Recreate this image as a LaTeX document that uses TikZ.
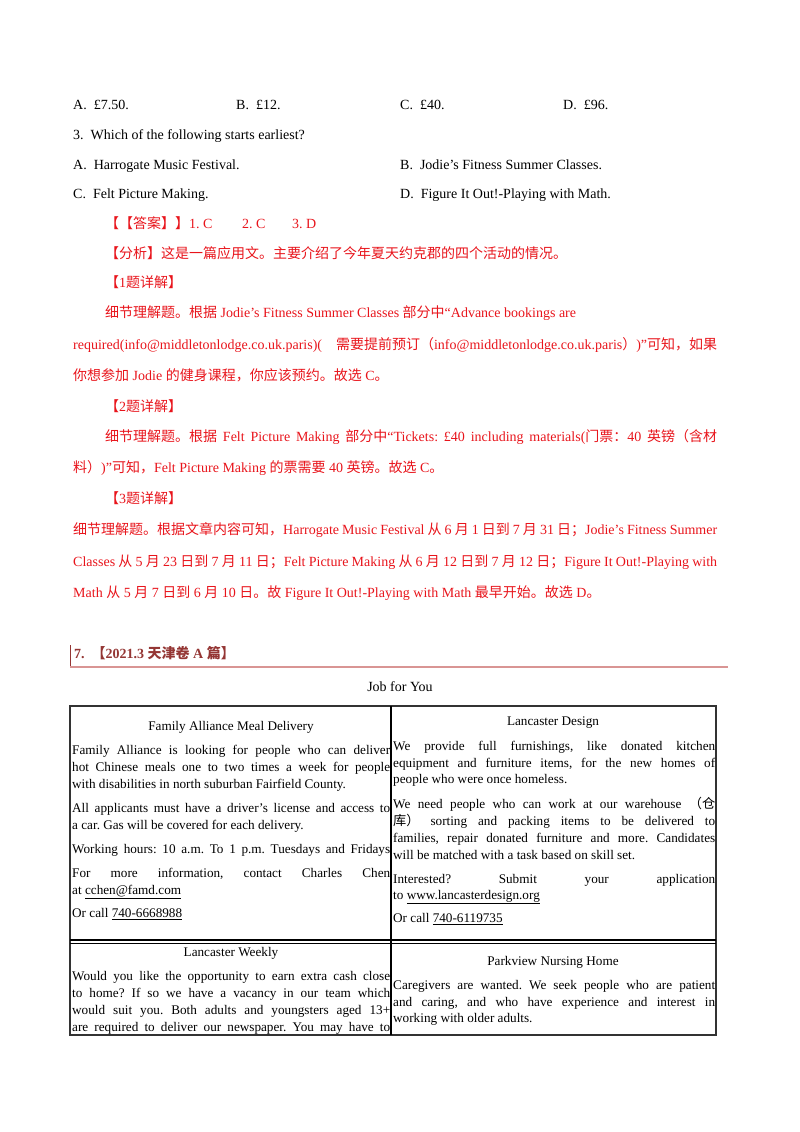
\documentclass[tikz,border=0pt]{standalone}
\usepackage{fontspec}
\setmainfont{Liberation Serif}
\newfontfamily\cjkf{Noto Sans CJK SC}
\newcommand\zh[1]{{\cjkf #1}}
\newcommand\jl[2]{\makebox[#1pt][s]{#2}}
\definecolor{ansred}{HTML}{E8141B}
\definecolor{hdred}{HTML}{943634}
\definecolor{hdline}{HTML}{D99594}
\frenchspacing
\begin{document}
\begin{tikzpicture}[x=1pt,y=-1pt,
  t/.style={inner sep=0,anchor=west,font=\fontsize{14}{15}\selectfont,text height=9.5pt,text depth=3pt},
  r/.style={t,text=ansred},
  c/.style={inner sep=0,anchor=west,font=\fontsize{13.2}{14}\selectfont,text height=9pt,text depth=2.5pt},
  cc/.style={c,anchor=center}]
\useasboundingbox (0,0) rectangle (800,1132);
% questions
\node[t] at (73,106) {A.\ \ £7.50.};
\node[t] at (236,106) {B.\ \ £12.};
\node[t] at (400,106) {C.\ \ £40.};
\node[t] at (563,106) {D.\ \ £96.};
\node[t] at (73,136) {3.\ \ Which of the following starts earliest?};
\node[t] at (73,166) {A.\ \ Harrogate Music Festival.};
\node[t] at (400,166) {B.\ \ Jodie's Fitness Summer Classes.};
\node[t] at (73,195) {C.\ \ Felt Picture Making.};
\node[t] at (400,195) {D.\ \ Figure It Out!-Playing with Math.};
% answer
\node[r] at (105,225) {\zh{【【答案】】}1. C};
\node[r] at (242,225) {2. C};
\node[r] at (292,225) {3. D};
\node[r] at (105,255) {\zh{【分析】这是一篇应用文。主要介绍了今年夏天约克郡的四个活动的情况。}};
\node[r] at (105,284) {\zh{【}1\zh{题详解】}};
\node[r] at (105,314) {\zh{细节理解题。根据} Jodie's Fitness Summer Classes \zh{部分中}“Advance bookings are};
\node[r] at (73,346) {\jl{644}{required(info@middletonlodge.co.uk.paris)( \zh{需要提前预订（}info@middletonlodge.co.uk.paris\zh{）})”\zh{可知，如果}}};
\node[r] at (73,377) {\zh{你想参加} Jodie \zh{的健身课程，你应该预约。故选} C\zh{。}};
\node[r] at (105,408) {\zh{【}2\zh{题详解】}};
\node[r] at (105,438) {\jl{612}{\zh{细节理解题。根据} Felt Picture Making \zh{部分中}“Tickets: £40 including materials(\zh{门票：}40 \zh{英镑（含材}}};
\node[r] at (73,469) {\zh{料）})”\zh{可知，}Felt Picture Making \zh{的票需要} 40 \zh{英镑。故选} C\zh{。}};
\node[r] at (105,500) {\zh{【}3\zh{题详解】}};
\node[r] at (73,531) {\jl{644}{\zh{细节理解题。根据文章内容可知，}Harrogate Music Festival \zh{从} 6 \zh{月} 1 \zh{日到} 7 \zh{月} 31 \zh{日；}Jodie's Fitness Summer}};
\node[r] at (73,563) {\jl{644}{Classes \zh{从} 5 \zh{月} 23 \zh{日到} 7 \zh{月} 11 \zh{日；}Felt Picture Making \zh{从} 6 \zh{月} 12 \zh{日到} 7 \zh{月} 12 \zh{日；}Figure It Out!-Playing with}};
\node[r] at (73,594) {Math \zh{从} 5 \zh{月} 7 \zh{日到} 6 \zh{月} 10 \zh{日。故} Figure It Out!-Playing with Math \zh{最早开始。故选} D\zh{。}};
% header
\draw[hdred,line width=1pt] (70,645) -- (70,667);
\draw[hdline,line width=1.2pt] (70,667) -- (728,667);
\node[t,text=hdred,font=\fontsize{14}{15}\selectfont\bfseries] at (74,655) {7.\ \ \zh{【}2021.3 \zh{天津卷} A \zh{篇】}};
\node[t,anchor=center] (title) at (400,688) {Job for You};
% table
\draw[line width=2.2pt,black!80] (70,706) rectangle (716,1035);
\draw[line width=1.2pt] (391,706) -- (391,1035);
\draw[line width=1.2pt] (70,940) -- (716,940);
\draw[line width=0.8pt] (70,943.5) -- (716,943.5);
% left cell 1
\node[cc] at (231,727) {Family Alliance Meal Delivery};
\node[c] at (72,751) {\jl{318}{Family Alliance is looking for people who can deliver}};
\node[c] at (72,768) {\jl{318}{hot Chinese meals one to two times a week for people}};
\node[c] at (72,785) {with disabilities in north suburban Fairfield County.};
\node[c] at (72,809) {\jl{318}{All applicants must have a driver's license and access to}};
\node[c] at (72,826) {a car. Gas will be covered for each delivery.};
\node[c] at (72,850) {\jl{318}{Working hours: 10 a.m. To 1 p.m. Tuesdays and Fridays}};
\node[c] at (72,874) {\jl{318}{For\hfill more\hfill information,\hfill contact\hfill Charles\hfill Chen}};
\node[c] at (72,891) {at \underline{cchen@famd.com}};
\node[c] at (72,914) {Or call \underline{740-6668988}};
% right cell 1
\node[cc] at (553,722) {Lancaster Design};
\node[c] at (393,747) {\jl{322}{We provide full furnishings, like donated kitchen}};
\node[c] at (393,764) {\jl{322}{equipment and furniture items, for the new homes of}};
\node[c] at (393,780) {people who were once homeless.};
\node[c] at (393,805) {\jl{322}{We need people who can work at our warehouse \zh{（仓}}};
\node[c] at (393,822) {\jl{322}{\zh{库）} sorting and packing items to be delivered to}};
\node[c] at (393,839) {\jl{322}{families, repair donated furniture and more. Candidates}};
\node[c] at (393,856) {will be matched with a task based on skill set.};
\node[c] at (393,880) {\jl{322}{Interested?\hfill Submit\hfill your\hfill application}};
\node[c] at (393,896) {to \underline{www.lancasterdesign.org}};
\node[c] at (393,919) {Or call \underline{740-6119735}};
% row 2
\node[cc] at (231,953) {Lancaster Weekly};
\node[c] at (72,977) {\jl{318}{Would you like the opportunity to earn extra cash close}};
\node[c] at (72,994) {\jl{318}{to home? If so we have a vacancy in our team which}};
\node[c] at (72,1011) {\jl{318}{would suit you. Both adults and youngsters aged 13+}};
\node[c] at (72,1028) {\jl{318}{are required to deliver our newspaper. You may have to}};
\node[cc] at (553,962) {Parkview Nursing Home};
\node[c] at (393,986) {\jl{322}{Caregivers are wanted. We seek people who are patient}};
\node[c] at (393,1003) {\jl{322}{and caring, and who have experience and interest in}};
\node[c] at (393,1019) {working with older adults.};
\end{tikzpicture}
\end{document}
